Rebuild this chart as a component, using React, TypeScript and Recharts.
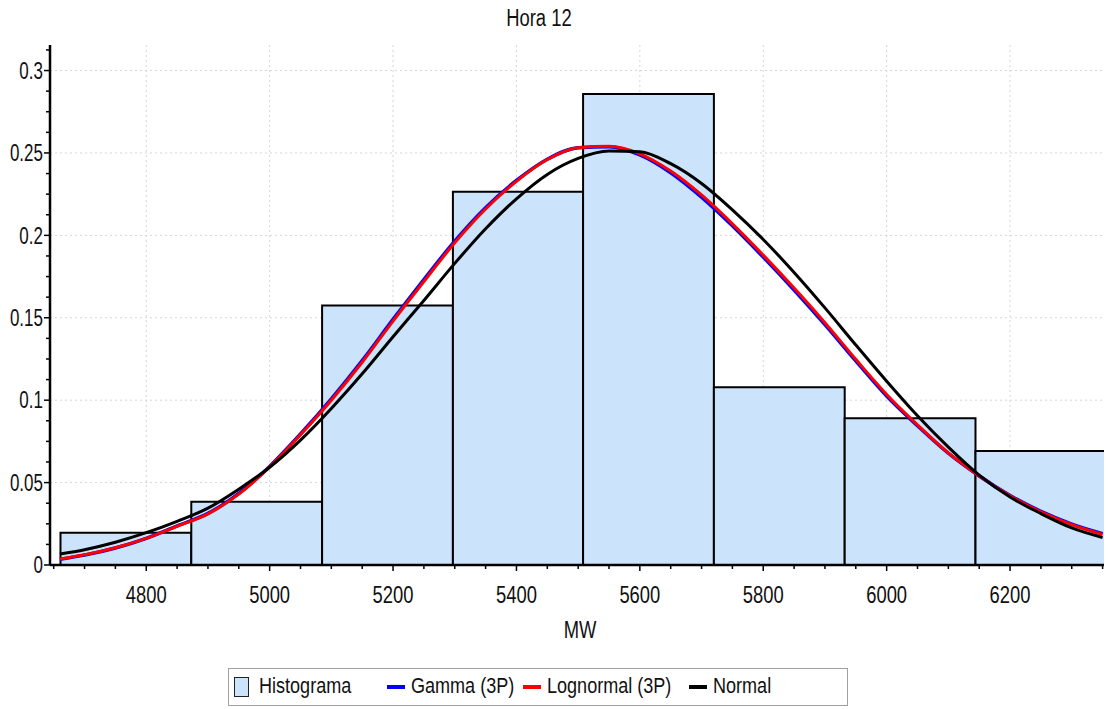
import { ComposedChart, Line, XAxis, YAxis, CartesianGrid, ReferenceArea } from 'recharts'

// histogram bins (MW) and relative frequencies
const binEdges = [4661, 4873, 5085, 5297, 5508, 5720, 5932, 6144, 6356]
const binFreq = [0.0196, 0.0384, 0.1574, 0.2265, 0.2858, 0.1078, 0.089, 0.0692]

// fitted curves
const curveX = [
  4660, 4700, 4750, 4800, 4850, 4900, 4950, 5000, 5050, 5100, 5150, 5200,
  5250, 5300, 5350, 5400, 5450, 5500, 5550, 5600, 5650, 5700, 5750, 5800,
  5850, 5900, 5950, 6000, 6050, 6100, 6150, 6200, 6250, 6300, 6350,
]
const gammaY = [
  0.0035, 0.006, 0.0103, 0.0162, 0.0237, 0.0313, 0.0435, 0.0598, 0.0795, 0.1008, 0.124, 0.149,
  0.1732, 0.1965, 0.2168, 0.2333, 0.2462, 0.2532, 0.2538, 0.2488, 0.238, 0.2232, 0.2058, 0.1868,
  0.1668, 0.1458, 0.1238, 0.1025, 0.0845, 0.0678, 0.054, 0.0422, 0.0325, 0.0248, 0.019,
]
const lognormalY = [
  0.0037, 0.0062, 0.0105, 0.0162, 0.0235, 0.031, 0.043, 0.0595, 0.079, 0.1, 0.123, 0.148,
  0.172, 0.1955, 0.216, 0.2328, 0.246, 0.2532, 0.254, 0.2495, 0.239, 0.2245, 0.207, 0.188,
  0.168, 0.147, 0.1248, 0.1035, 0.085, 0.068, 0.054, 0.042, 0.0322, 0.0245, 0.0186,
]
const normalY = [
  0.0067, 0.0093, 0.0138, 0.0196, 0.0265, 0.0345, 0.046, 0.0593, 0.0758, 0.095, 0.116, 0.1385,
  0.1605, 0.183, 0.204, 0.2222, 0.237, 0.2467, 0.2512, 0.2508, 0.2435, 0.2315, 0.2155, 0.1975,
  0.1775, 0.156, 0.1335, 0.1115, 0.0905, 0.0715, 0.0545, 0.0412, 0.0312, 0.0225, 0.0167,
]

const xMajor = [4800, 5000, 5200, 5400, 5600, 5800, 6000, 6200]
const xMinor = [
  4650, 4700, 4750, 4850, 4900, 4950, 5050, 5100, 5150, 5250, 5300, 5350, 5450, 5500, 5550,
  5650, 5700, 5750, 5850, 5900, 5950, 6050, 6100, 6150, 6250, 6300, 6350,
]
const yMajor = [0, 0.05, 0.1, 0.15, 0.2, 0.25, 0.3]
const yMinor = [
  0.0125, 0.025, 0.0375, 0.0625, 0.075, 0.0875, 0.1125, 0.125, 0.1375, 0.1625, 0.175, 0.1875,
  0.2125, 0.225, 0.2375, 0.2625, 0.275, 0.2875, 0.3125,
]

const xDomain = [4644, 6362]
const yDomain = [0, 0.3155]

const FONT = '"Liberation Sans", Arial, sans-serif'
const BAR_FILL = '#cce4fb'

const data = curveX.map((x, i) => ({
  x,
  gamma: gammaY[i],
  lognormal: lognormalY[i],
  normal: normalY[i],
}))

const XTick = ({ x, y, payload }: any) => {
  const major = xMajor.includes(payload.value)
  return (
    <g>
      <line x1={x} x2={x} y1={y} y2={y + (major ? 6 : 4)} stroke="#000" strokeWidth={1.5} />
      {major && (
        <text
          transform={`translate(${x},${y + 38}) scale(0.8, 1)`}
          textAnchor="middle"
          fontFamily={FONT}
          fontSize={23}
          fill="#111"
        >
          {payload.value}
        </text>
      )}
    </g>
  )
}

const YTick = ({ x, y, payload }: any) => {
  const major = yMajor.includes(payload.value)
  return (
    <g>
      <line x1={x} x2={x - (major ? 6 : 4)} y1={y} y2={y} stroke="#000" strokeWidth={1.5} />
      {major && (
        <text
          transform={`translate(${x - 7},${y}) scale(0.74, 1)`}
          dy="0.36em"
          textAnchor="end"
          fontFamily={FONT}
          fontSize={23}
          fill="#111"
        >
          {String(payload.value)}
        </text>
      )}
    </g>
  )
}

const legendItems = [
  { label: 'Gamma (3P)', color: '#0000ff', left: 158 },
  { label: 'Lognormal (3P)', color: '#ff0000', left: 294 },
  { label: 'Normal', color: '#000000', left: 460 },
]

const narrowText = (text: string, size: number) => (
  <span style={{ display: 'inline-block', transform: 'scaleX(0.8)', fontSize: size }}>{text}</span>
)

export default function App() {
  return (
    <div style={{ position: 'relative', width: 1104, height: 701, fontFamily: FONT, color: '#111' }}>
      <div style={{ position: 'absolute', left: 0, width: 1062, top: -4, textAlign: 'center', lineHeight: '28px' }}>
        {narrowText('Hora 12', 23)}
      </div>
      <ComposedChart width={1104} height={701} data={data} margin={{ top: 37, right: 2, left: 0, bottom: 0 }}>
        <CartesianGrid
          horizontalValues={yMajor.filter((v) => v > 0)}
          verticalValues={xMajor}
          stroke="#d6d6d6"
          strokeDasharray="2 3"
        />
        {binFreq.map((f, i) => (
          <ReferenceArea
            key={i}
            x1={binEdges[i]}
            x2={binEdges[i + 1]}
            y1={0}
            y2={f}
            fill={BAR_FILL}
            fillOpacity={1}
            stroke="#000"
            strokeWidth={2}
            ifOverflow="visible"
          />
        ))}
        <XAxis
          dataKey="x"
          type="number"
          domain={xDomain}
          ticks={[...xMajor, ...xMinor].sort((a, b) => a - b)}
          interval={0}
          allowDataOverflow
          tick={<XTick />}
          tickLine={false}
          tickSize={0}
          tickMargin={0}
          height={144}
          axisLine={{ stroke: '#000', strokeWidth: 2.5 }}
        />
        <XAxis
          xAxisId="top"
          orientation="top"
          type="number"
          domain={xDomain}
          allowDataOverflow
          tick={false}
          tickLine={false}
          height={0}
          axisLine={{ stroke: '#000', strokeWidth: 2.5 }}
        />
        <YAxis
          type="number"
          domain={yDomain}
          ticks={[...yMajor, ...yMinor].sort((a, b) => a - b)}
          interval={0}
          allowDataOverflow
          tick={<YTick />}
          tickLine={false}
          tickSize={0}
          tickMargin={0}
          width={42}
          axisLine={{ stroke: '#000', strokeWidth: 2.5 }}
        />
        <Line type="monotone" dataKey="gamma" stroke="#0000ff" strokeWidth={3.5} dot={false} isAnimationActive={false} />
        <Line type="monotone" dataKey="lognormal" stroke="#ff0000" strokeWidth={3} dot={false} isAnimationActive={false} />
        <Line type="monotone" dataKey="normal" stroke="#000000" strokeWidth={3} dot={false} isAnimationActive={false} />
      </ComposedChart>
      <div style={{ position: 'absolute', left: 572, top: 608, transform: 'translateX(-50%)', lineHeight: '28px' }}>
        {narrowText('MW', 23)}
      </div>
      <div
        style={{
          position: 'absolute',
          left: 220,
          top: 660,
          width: 620,
          height: 38,
          border: '1px solid #a0a0a0',
          boxSizing: 'border-box',
          whiteSpace: 'nowrap',
        }}
      >
        <span
          style={{
            position: 'absolute',
            left: 5,
            top: 8,
            width: 13,
            height: 18,
            background: BAR_FILL,
            border: '1.5px solid #222',
          }}
        />
        <span style={{ position: 'absolute', left: 30, top: 3, lineHeight: '28px' }}>
          <span style={{ display: 'inline-block', transform: 'scaleX(0.82)', transformOrigin: 'left', fontSize: 22 }}>
            Histograma
          </span>
        </span>
        {legendItems.map((it) => (
          <span key={it.label} style={{ position: 'absolute', left: it.left, top: 3, height: 28 }}>
            <span
              style={{ position: 'absolute', left: 0, top: 13, width: 18, height: 4, background: it.color }}
            />
            <span
              style={{
                position: 'absolute',
                left: 24,
                top: 0,
                lineHeight: '28px',
                display: 'inline-block',
                transform: 'scaleX(0.82)',
                transformOrigin: 'left',
                fontSize: 22,
              }}
            >
              {it.label}
            </span>
          </span>
        ))}
      </div>
    </div>
  )
}
